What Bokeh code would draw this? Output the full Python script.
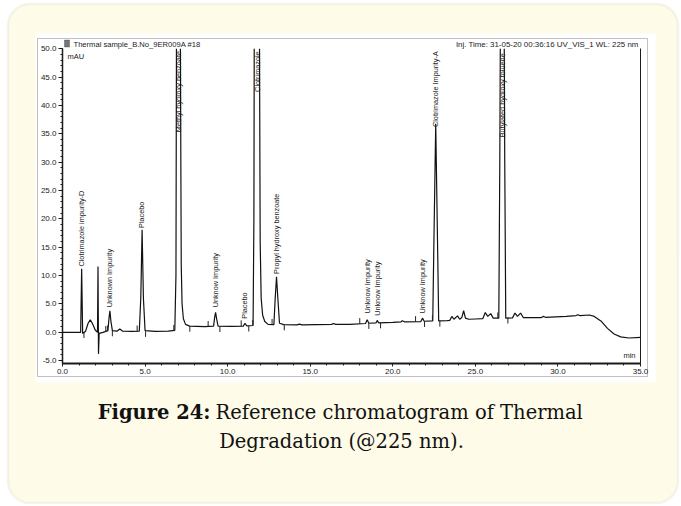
import math
from bokeh.plotting import figure
from bokeh.models import (BoxAnnotation, Label, LinearAxis, Range1d, FixedTicker,
                          SingleIntervalTicker, NumeralTickFormatter, ColumnDataSource)
from bokeh.core.properties import value
from bokeh.embed import file_html
from bokeh.resources import INLINE

NAN = float("nan")

# ---------------- data ----------------
# (NaN marks where an off-scale peak leaves the top of the plot)
trace_time = [0.00, 0.60, 1.10, 1.16, 1.22, 1.40, 1.55, 1.68, 1.82, 1.98, 2.12, 2.15, 2.18, 2.22,
              2.45, 2.75, 2.82, 2.87, 2.93, 3.02, 3.30, 3.47, 3.65, 4.20, 4.65, 4.74, 4.82, 4.90,
              5.00, 5.60, 6.40, 6.80, 6.87, 6.90, 7.02, 7.14, 7.19, 7.24, 7.32, 7.45, 7.70, 8.60,
              9.15, 9.21, 9.27, 9.33, 9.42, 10.20, 10.95, 11.05, 11.16, 11.54, 11.59, 11.61, 11.77,
              11.93, 11.97, 12.03, 12.12, 12.25, 12.45, 12.80, 12.88, 12.96, 13.04, 13.14, 13.40,
              14.20, 14.35, 14.50, 16.30, 16.40, 16.55, 17.40, 18.35, 18.45, 18.55, 18.98, 19.06,
              19.15, 20.00, 20.50, 20.58, 20.70, 21.70, 21.80, 21.90, 22.42, 22.47, 22.60, 22.73,
              22.78, 23.30, 23.45, 23.58, 23.70, 23.92, 24.05, 24.18, 24.29, 24.40, 24.60, 25.00,
              25.45, 25.60, 25.75, 25.93, 26.08, 26.42, 26.48, 26.51, 26.63, 26.75, 26.78, 26.84,
              27.25, 27.40, 27.55, 27.74, 27.90, 28.50, 29.00, 29.10, 29.25, 30.50, 31.10, 31.20,
              31.35, 31.90, 32.20, 32.60, 33.00, 33.40, 33.80, 34.30, 35.00]
trace_mau = [0.0, 0.0, 0.0, 11.2, -0.2, 0.2, 1.6, 2.2, 1.5, 0.4, 0.0, 11.6, -3.8, -0.2,
             0.0, 0.3, 2.6, 3.8, 2.0, 0.3, 0.2, 0.6, 0.2, 0.15, 0.2, 6.0, 18.1, 6.0,
             0.3, 0.15, 0.2, 0.35, 10.0, 50.0, NAN, 50.0, 12.0, 5.0, 2.4, 1.4, 1.1, 1.0,
             1.1, 2.6, 3.5, 2.4, 1.1, 1.05, 1.1, 1.6, 1.15, 1.2, 20.0, 50.0, NAN,
             50.0, 16.0, 6.0, 3.0, 1.9, 1.4, 1.35, 6.0, 9.8, 6.0, 1.6, 1.35,
             1.3, 1.45, 1.3, 1.4, 1.55, 1.4, 1.4, 1.55, 2.2, 1.6, 1.65, 2.1,
             1.65, 1.75, 1.85, 2.05, 1.85, 1.9, 2.5, 1.95, 2.0, 12.0, 36.8, 12.0,
             2.0, 2.05, 2.1, 2.8, 2.3, 2.9, 2.3, 2.6, 3.8, 2.5, 2.3, 2.35,
             2.4, 3.5, 2.8, 3.3, 2.5, 2.5, 30.0, 50.0, NAN, 50.0, 30.0, 2.5,
             2.55, 3.4, 2.8, 3.4, 2.6, 2.6, 2.6, 2.8, 2.65, 2.8, 2.95, 3.1,
             2.95, 3.05, 2.8, 2.0, 0.7, -0.3, -0.8, -1.0, -0.9]

peak_names = ["Clotrimazole impurity-D", "Unknown Impurity", "Placebo",
              "Methyl hydroxy benzoate", "Unknow Impurity", "Placebo", "Clotrimazole",
              "Propyl hydroxy benzoate", "Unknow Impurity", "Unknow Impurity",
              "Unknow Impurity", "Clotrimazole Impurity-A", "Butylated hydroxy toluene"]
peak_label_time = [1.14, 2.87, 4.80, 7.03, 9.28, 11.02, 11.78, 12.96, 18.45, 19.08, 21.80, 22.57, 26.63]
peak_label_mau = [11.6, 4.4, 18.4, 35.3, 4.4, 2.4, 42.4, 10.3, 3.3, 2.9, 3.3, 36.2, 34.4]

mark_time = [1.30, 2.62, 2.72, 3.02, 4.52, 5.03, 6.74, 7.71, 8.82, 9.53, 10.82, 11.28, 11.52,
             12.69, 13.43, 18.00, 18.55, 19.26, 21.38, 21.92, 22.40, 22.85, 26.36, 26.97]
mark_base = [0.0, 0.1, 0.2, 0.3, 0.2, 0.2, 0.3, 1.1, 1.0, 1.05, 1.1, 1.15, 1.2,
             1.35, 1.35, 1.5, 1.6, 1.7, 1.85, 1.95, 2.0, 2.0, 2.5, 2.55]
mark_side = [-1, 1, 1, -1, 1, -1, 1, -1, 1, -1, 1, -1, 1,
             1, -1, 1, -1, -1, 1, -1, 1, -1, 1, -1]

x_start, x_end, x_step = 0.0, 35.0, 5.0
y_start, y_end, y_step = -5.5, 50.0, 5.0

header_left = "Thermal sample_B.No_9ER009A #18"
header_right = "Inj. Time: 31-05-20 00:36:16 UV_VIS_1 WL: 225 nm"
y_unit = "mAU"
x_unit = "min"
caption_bold = "Figure 24:"
caption_rest = "Reference chromatogram of Thermal"
caption_line2 = "Degradation (@225 nm)."

# ---------------- layout (canvas pixels) ----------------
W, H = 680, 505
PL, PR, PT, PB = 62.0, 640.0, 48.3, 363.0   # where the data box sits on the canvas
kx = (PR - PL) / (x_end - x_start)
ky = (PB - PT) / (y_end - y_start)
xr = Range1d(x_start - PL / kx, x_end + (W - PR) / kx)
yr = Range1d(y_start - (H - PB) / ky, y_end + PT / ky)


def sx(px):
    return px


def sy(py):
    return H - py


INK = "#1b1b1b"
SANS = "Liberation Sans"

p = figure(width=W, height=H, x_range=xr, y_range=yr, title=None,
           output_backend="svg", toolbar_location=None, x_axis_type=None, y_axis_type=None,
           min_border=0)
p.outline_line_color = None
p.background_fill_color = "white"
p.border_fill_color = "white"
p.xgrid.visible = False
p.ygrid.visible = False


def box(l, r, t, b, **kw):
    p.add_layout(BoxAnnotation(left=sx(l), right=sx(r), top=sy(t), bottom=sy(b),
                               left_units="screen", right_units="screen",
                               top_units="screen", bottom_units="screen", level="underlay", **kw))


# card, paper, outer frame, icon
box(7.5, 677.5, 3.5, 502.5, fill_color="#fefbe8", fill_alpha=1.0, line_color="#deddc6",
    line_width=2.5, border_radius=22)
box(35, 655, 33, 382, fill_color="white", fill_alpha=1.0, line_color=None)
box(37, 647, 38, 376, fill_color=None, line_color="#333333", line_width=1)
box(64, 69, 39.5, 46.5, fill_color="#777777", fill_alpha=1.0, line_color="#222222", line_width=1)

# axes drawn at the edges of the data box
yax = LinearAxis(ticker=SingleIntervalTicker(interval=y_step, num_minor_ticks=5),
                 formatter=NumeralTickFormatter(format="0.0"),
                 fixed_location=x_start, bounds=(y_start, y_end))
yax.axis_line_color = INK
yax.axis_line_width = 1.5
yax.major_tick_line_color = INK
yax.minor_tick_line_color = INK
yax.major_tick_out = 4
yax.major_tick_in = 0
yax.minor_tick_out = 2
yax.minor_tick_in = 0
yax.major_label_standoff = 2
yax.major_label_text_font = SANS
yax.major_label_text_font_size = "8px"
yax.major_label_text_color = INK
p.add_layout(yax, "left")

xax = LinearAxis(ticker=SingleIntervalTicker(interval=x_step, num_minor_ticks=5),
                 formatter=NumeralTickFormatter(format="0.0"),
                 fixed_location=y_start, bounds=(x_start, x_end))
xax.axis_line_color = INK
xax.axis_line_width = 2
xax.major_tick_line_color = INK
xax.minor_tick_line_color = INK
xax.major_tick_out = 3
xax.major_tick_in = 0
xax.minor_tick_out = 2
xax.minor_tick_in = 0
xax.major_label_standoff = 2
xax.major_label_text_font = SANS
xax.major_label_text_font_size = "8px"
xax.major_label_text_color = INK
p.add_layout(xax, "below")

rax = LinearAxis(ticker=FixedTicker(ticks=[]), fixed_location=x_end, bounds=(y_start, y_end))
rax.axis_line_color = INK
rax.axis_line_width = 1
rax.major_tick_line_color = None
rax.minor_tick_line_color = None
p.add_layout(rax, "right")

# chromatogram trace
p.line(trace_time, trace_mau, line_color="#111111", line_width=1.2)

# integration marks
mark_len = 1.0
p.segment(x0=mark_time, y0=mark_base, x1=mark_time,
          y1=[b + s * mark_len for b, s in zip(mark_base, mark_side)],
          line_color="#222222", line_width=1)

# peak names
src = ColumnDataSource(dict(x=peak_label_time, y=peak_label_mau, t=peak_names))
p.text(x="x", y="y", text="t", source=src, angle=math.pi / 2, text_align="left",
       text_baseline="middle", text_font=value(SANS), text_font_size="7.3px", text_color=INK)


def lab(text, px, py, size, align="left", font=SANS, style="normal", color=INK):
    p.add_layout(Label(x=sx(px), y=sy(py), x_units="screen", y_units="screen", text=text,
                       text_align=align, text_baseline="middle", text_font=font,
                       text_font_size=size, text_font_style=style, text_color=color))


lab(header_left, 73, 43.5, "7.6px")
lab(header_right, 638, 43.5, "7.9px", align="right")
lab(y_unit, 67, 55.5, "7.5px")
lab(x_unit, 635, 355, "7.5px", align="right")

# caption
SERIF = "DejaVu Serif"
lab(caption_bold, 210, 412, "19.5px", align="right", font=SERIF, style="bold", color="#111111")
lab(caption_rest, 215, 412, "19.5px", align="left", font=SERIF, color="#111111")
lab(caption_line2, 341, 441, "19.5px", align="center", font=SERIF, color="#111111")

open("out.html", "w").write(file_html(p, INLINE))
